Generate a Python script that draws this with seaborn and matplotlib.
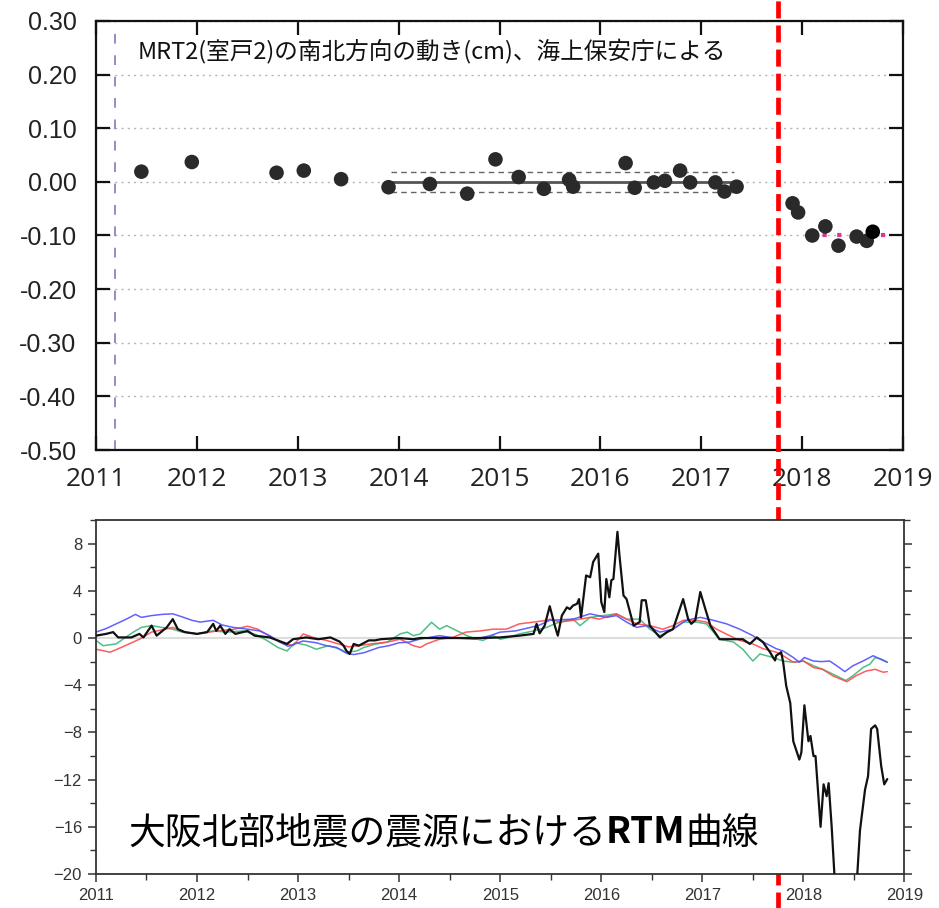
import pandas as pd
import matplotlib
matplotlib.use("Agg")
import matplotlib.pyplot as plt
import seaborn as sns
from matplotlib.ticker import MultipleLocator, FormatStrFormatter

sns.set_theme(style="white")
plt.rcParams["font.family"] = ["Liberation Sans", "DejaVu Sans"]
cjk = ["Noto Sans CJK JP", "DejaVu Sans"]

# --- top panel: MRT2 (Muroto 2) north-south movement, cm
mrt_year = [2011.45, 2011.95, 2012.79, 2013.06, 2013.43, 2013.90, 2014.31, 2014.68,
            2014.96, 2015.19, 2015.44, 2015.69, 2015.73, 2016.25, 2016.34, 2016.53,
            2016.64, 2016.79, 2016.89, 2017.14, 2017.23, 2017.35, 2017.905, 2017.96,
            2018.10, 2018.23, 2018.36, 2018.54, 2018.64, 2018.70]
mrt_ns = [0.019, 0.037, 0.017, 0.021, 0.005, -0.010, -0.004, -0.022,
          0.042, 0.009, -0.013, 0.004, -0.009, 0.035, -0.011, -0.001,
          0.002, 0.021, -0.001, -0.001, -0.018, -0.009, -0.040, -0.057,
          -0.100, -0.083, -0.119, -0.102, -0.110, -0.093]

base_span = [2013.90, 2017.35]
base_mean = 0.0
base_sd = 0.018
after_span = [2018.06, 2018.82]
after_mean = -0.10

tohoku_year = 2011.19
osaka_year = 2017.765

top_title = "MRT2(室戸2)の南北方向の動き(cm)、海上保安庁による"
bottom_title = ["大阪北部地震の震源における", "RTM", "曲線"]

# --- bottom panel: RTM curves
blue_t = [2011.00, 2011.10, 2011.20, 2011.30, 2011.39, 2011.45, 2011.55, 2011.65, 2011.76, 2011.85,
          2011.95, 2012.03, 2012.16, 2012.25, 2012.36, 2012.50, 2012.62, 2012.72, 2012.82, 2012.90,
          2012.97, 2013.05, 2013.18, 2013.28, 2013.38, 2013.48, 2013.55, 2013.65, 2013.80, 2013.90,
          2014.00, 2014.10, 2014.20, 2014.30, 2014.40, 2014.55, 2014.75, 2014.90, 2015.00, 2015.15,
          2015.30, 2015.39, 2015.49, 2015.72, 2015.89, 2016.05, 2016.15, 2016.25, 2016.35, 2016.45,
          2016.58, 2016.71, 2016.84, 2016.98, 2017.11, 2017.24, 2017.37, 2017.50, 2017.57, 2017.64,
          2017.73, 2017.80, 2017.90, 2017.96, 2018.01, 2018.10, 2018.18, 2018.26, 2018.33, 2018.41,
          2018.49, 2018.59, 2018.69, 2018.75, 2018.83]
blue_v = [0.5, 0.8, 1.2, 1.6, 2.0, 1.75, 1.9, 2.0, 2.05, 1.8,
          1.5, 1.35, 1.5, 1.1, 0.9, 0.75, 0.6, 0.2, -0.35, -0.7,
          -0.5, -0.25, -0.4, -0.65, -0.8, -1.3, -1.4, -1.25, -0.8, -0.65,
          -0.4, -0.35, -0.1, 0.05, 0.2, 0.0, -0.1, 0.2, 0.5, 0.6,
          0.9, 1.1, 1.5, 1.6, 2.05, 1.75, 1.9, 1.35, 0.9, 1.05,
          0.5, 0.75, 1.5, 1.75, 1.5, 1.2, 0.75, 0.2, -0.2, -0.5,
          -0.9, -1.1, -1.65, -2.05, -1.65, -1.95, -2.0, -1.95, -2.35, -2.85,
          -2.35, -1.95, -1.5, -1.75, -2.05]

green_t = [2011.00, 2011.07, 2011.20, 2011.30, 2011.37, 2011.45, 2011.55, 2011.65, 2011.76, 2011.85,
           2012.00, 2012.15, 2012.30, 2012.45, 2012.58, 2012.69, 2012.80, 2012.89, 2012.97, 2013.08,
           2013.18, 2013.30, 2013.40, 2013.48, 2013.58, 2013.65, 2013.75, 2013.88, 2014.01, 2014.08,
           2014.14, 2014.21, 2014.32, 2014.40, 2014.47, 2014.60, 2014.67, 2014.77, 2014.83, 2014.93,
           2015.00, 2015.06, 2015.19, 2015.33, 2015.46, 2015.54, 2015.59, 2015.72, 2015.79, 2015.89,
           2016.02, 2016.15, 2016.25, 2016.38, 2016.48, 2016.58, 2016.71, 2016.81, 2016.94, 2017.04,
           2017.17, 2017.31, 2017.40, 2017.50, 2017.57, 2017.70, 2017.80, 2017.90, 2018.00, 2018.10,
           2018.19, 2018.29, 2018.42, 2018.49, 2018.59, 2018.66, 2018.71, 2018.76, 2018.83]
green_v = [-0.2, -0.65, -0.5, 0.1, 0.5, 0.9, 1.05, 0.9, 0.75, 0.5,
           0.35, 0.6, 0.5, 0.6, 0.3, -0.2, -0.8, -1.1, -0.4, -0.6,
           -0.95, -0.65, -0.9, -1.2, -1.1, -0.8, -0.55, -0.35, 0.35, 0.5,
           0.2, 0.35, 1.33, 0.75, 1.05, 0.5, 0.2, -0.1, -0.2, 0.2,
           -0.1, 0.0, 0.35, 0.6, 0.9, 1.2, 1.35, 1.6, 1.05, 1.75,
           1.9, 2.05, 1.6, 1.6, 0.75, 0.2, 0.75, 1.35, 1.35, 1.2,
           -0.1, -0.35, -0.95, -1.95, -1.35, -1.65, -1.95, -2.05, -1.95, -2.35,
           -2.65, -3.05, -3.6, -3.2, -2.5, -2.2, -1.65, -1.75, -2.05]

red_t = [2011.00, 2011.14, 2011.25, 2011.43, 2011.55, 2011.76, 2011.88, 2012.00, 2012.20, 2012.37,
         2012.50, 2012.60, 2012.82, 2012.95, 2013.05, 2013.15, 2013.28, 2013.40, 2013.50, 2013.60,
         2013.72, 2013.88, 2014.01, 2014.14, 2014.21, 2014.27, 2014.40, 2014.53, 2014.66, 2014.80,
         2014.93, 2015.06, 2015.19, 2015.33, 2015.46, 2015.49, 2015.59, 2015.72, 2015.89, 2015.98,
         2016.15, 2016.25, 2016.35, 2016.48, 2016.61, 2016.71, 2016.81, 2016.94, 2017.04, 2017.14,
         2017.27, 2017.37, 2017.50, 2017.60, 2017.73, 2017.80, 2017.90, 2018.00, 2018.10, 2018.19,
         2018.29, 2018.43, 2018.52, 2018.62, 2018.71, 2018.79, 2018.83]
red_v = [-0.95, -1.2, -0.8, -0.1, 0.5, 0.9, 0.5, 0.35, 0.6, 0.75,
         1.0, 0.75, -0.35, -0.65, 0.35, 0.05, -0.2, -0.5, -0.75, -0.65,
         -0.5, -0.35, -0.1, -0.65, -0.8, -0.5, -0.1, 0.05, 0.5, 0.6,
         0.75, 0.75, 1.2, 1.35, 1.5, 1.6, 1.35, 1.5, 1.75, 1.6,
         2.05, 1.6, 1.2, 1.05, 0.75, 1.05, 1.5, 1.5, 1.35, 0.75,
         0.2, -0.2, -0.5, -0.9, -1.2, -1.5, -2.05, -1.95, -2.5, -2.65,
         -3.2, -3.7, -3.2, -2.8, -2.65, -2.9, -2.85]

black_t = [2011.00, 2011.10, 2011.17, 2011.22, 2011.35, 2011.43, 2011.47, 2011.55, 2011.60, 2011.70,
           2011.76, 2011.81, 2011.88, 2012.00, 2012.10, 2012.16, 2012.19, 2012.23, 2012.28, 2012.32,
           2012.38, 2012.50, 2012.57, 2012.72, 2012.89, 2012.95, 2013.08, 2013.20, 2013.32, 2013.41,
           2013.45, 2013.48, 2013.51, 2013.55, 2013.60, 2013.70, 2013.76, 2013.82, 2014.00, 2014.14,
           2014.21, 2014.40, 2014.80, 2015.00, 2015.19, 2015.33, 2015.36, 2015.39, 2015.44, 2015.49,
           2015.54, 2015.57, 2015.61, 2015.66, 2015.69, 2015.72, 2015.76, 2015.78, 2015.80, 2015.85,
           2015.89, 2015.92, 2015.97, 2016.00, 2016.03, 2016.05, 2016.08, 2016.10, 2016.12, 2016.16,
           2016.18, 2016.22, 2016.25, 2016.32, 2016.38, 2016.40, 2016.44, 2016.48, 2016.58, 2016.65,
           2016.71, 2016.81, 2016.86, 2016.89, 2016.93, 2016.98, 2017.03, 2017.08, 2017.17, 2017.31,
           2017.40, 2017.47, 2017.54, 2017.60, 2017.67, 2017.70, 2017.72, 2017.73, 2017.78, 2017.80,
           2017.83, 2017.87, 2017.90, 2017.96, 2017.98, 2018.01, 2018.05, 2018.07, 2018.10, 2018.12,
           2018.17, 2018.20, 2018.23, 2018.25, 2018.28, 2018.31, 2018.42, 2018.53, 2018.56, 2018.61,
           2018.64, 2018.67, 2018.71, 2018.73, 2018.77, 2018.80, 2018.83]
black_v = [0.2, 0.35, 0.5, 0.05, 0.05, 0.35, 0.05, 1.05, 0.2, 0.9,
           1.6, 0.75, 0.5, 0.35, 0.5, 1.2, 0.6, 1.05, 0.35, 0.75,
           0.35, 0.6, 0.2, 0.05, -0.5, -0.1, 0.05, -0.1, 0.05, -0.3,
           -0.65, -1.1, -1.35, -0.5, -0.65, -0.2, -0.2, -0.1, 0.0, -0.1,
           0.0, 0.0, 0.0, 0.05, 0.2, 0.35, 1.2, 0.4, 1.05, 2.7,
           1.05, 0.2, 1.9, 2.6, 2.45, 2.75, 2.9, 3.3, 1.75, 5.3,
           5.15, 6.45, 7.15, 3.05, 2.2, 5.0, 3.45, 4.9, 5.0, 9.0,
           7.0, 3.6, 3.3, 1.05, 1.35, 3.2, 3.2, 1.05, 0.05, 0.5,
           0.75, 3.3, 1.6, 1.2, 1.5, 3.9, 2.45, 1.05, -0.1, -0.1,
           -0.1, -0.5, 0.05, -0.35, -1.2, -1.65, -1.9, -1.5, -1.2, -2.05,
           -4.05, -5.5, -8.75, -10.3, -9.7, -5.7, -8.75, -8.3, -10.0, -10.0,
           -16.0, -12.4, -13.4, -12.3, -16.0, -20.5, -23.0, -20.5, -16.3, -12.85,
           -11.7, -7.7, -7.4, -7.7, -10.85, -12.4, -11.95]

rtm = pd.concat([
    pd.DataFrame({"year": blue_t, "value": blue_v, "curve": "blue"}),
    pd.DataFrame({"year": green_t, "value": green_v, "curve": "green"}),
    pd.DataFrame({"year": red_t, "value": red_v, "curve": "red"}),
    pd.DataFrame({"year": black_t, "value": black_v, "curve": "black"}),
])
curve_colors = {"blue": "#5050ff", "green": "#3cb878", "red": "#ff4a4a", "black": "#111111"}

fig = plt.figure(figsize=(9.39, 9.08), dpi=100)
ax1 = fig.add_axes([0.1022, 0.5044, 0.8595, 0.4725])
ax2 = fig.add_axes([0.1022, 0.0374, 0.8610, 0.3899])

# ------------------------------------
# Top panel
# ------------------------------------
ax1.set_xlim(2011, 2019)
ax1.set_ylim(-0.5, 0.3)
ax1.yaxis.set_major_locator(MultipleLocator(0.1))
ax1.yaxis.set_major_formatter(FormatStrFormatter("%.2f"))
ax1.xaxis.set_major_locator(MultipleLocator(1))
ax1.xaxis.set_major_formatter(FormatStrFormatter("%d"))
ax1.grid(axis="y", linestyle=(0, (1.5, 3)), color="#b5b5b5", linewidth=1)
ax1.grid(axis="x", visible=False)

ax1.axvline(tohoku_year, color="#9b87c9", linewidth=1.4, dashes=(5, 6), zorder=1)
ax1.hlines(base_mean, base_span[0], base_span[1], color="#555555", linewidth=2, zorder=2)
for off in (base_sd, -base_sd):
    ax1.hlines(base_mean + off, base_span[0] + 0.02, base_span[1] - 0.03,
               color="#666666", linewidth=1, linestyles=(0, (4, 3)), zorder=2)
ax1.hlines(after_mean, after_span[0], after_span[1], color="#d23c8f",
           linewidth=3, linestyles=(0, (1, 2.5)), zorder=2)

sns.scatterplot(x=mrt_year[:-1], y=mrt_ns[:-1], ax=ax1, s=110, color="#2a2a2a",
                edgecolor="none", zorder=3)
sns.scatterplot(x=mrt_year[-1:], y=mrt_ns[-1:], ax=ax1, s=110, color="black",
                edgecolor="none", zorder=4)

ax1.text(0.051, 0.93, top_title, transform=ax1.transAxes, ha="left", va="center",
         fontsize=17, family=cjk, color="#111111")

for sp in ax1.spines.values():
    sp.set_color("#111111")
    sp.set_linewidth(1.6)
ax1.tick_params(axis="both", direction="in", length=10, width=1.6, color="#111111",
                top=True, right=True, bottom=True, left=True)
ax1.tick_params(axis="y", labelsize=18, pad=14, labelcolor="#222222")
ax1.tick_params(axis="x", labelsize=19, pad=12, labelcolor="#222222")
for lab in ax1.get_xticklabels():
    lab.set_family(["Open Sans", "DejaVu Sans"])
ax1.set_xlabel("")
ax1.set_ylabel("")

# ------------------------------------
# Bottom panel
# ------------------------------------
ax2.axhline(0, color="#dddddd", linewidth=1.5, zorder=1)
for name in ["green", "red", "blue"]:
    sns.lineplot(data=rtm[rtm["curve"] == name], x="year", y="value", ax=ax2,
                 color=curve_colors[name], linewidth=1.1, alpha=0.9, zorder=2)
sns.lineplot(data=rtm[rtm["curve"] == "black"], x="year", y="value", ax=ax2,
             color=curve_colors["black"], linewidth=1.6, zorder=3)

ax2.set_xlim(2011, 2019)
ax2.set_ylim(-20, 10)
ax2.yaxis.set_major_locator(MultipleLocator(4))
ax2.yaxis.set_minor_locator(MultipleLocator(2))
ax2.xaxis.set_major_locator(MultipleLocator(1))
ax2.xaxis.set_minor_locator(MultipleLocator(0.5))
ax2.xaxis.set_major_formatter(FormatStrFormatter("%d"))
ax2.set_xlabel("")
ax2.set_ylabel("")
for sp in ax2.spines.values():
    sp.set_color("#333333")
    sp.set_linewidth(1.3)
ax2.tick_params(axis="both", which="both", direction="out", color="#333333",
                left=True, right=True, bottom=True, top=False)
ax2.tick_params(axis="both", which="major", length=6, width=1.1, labelsize=12,
                labelcolor="#333333", pad=4)
ax2.tick_params(axis="both", which="minor", length=4, width=1.0)

# caption, with RTM in bold
t1 = ax2.text(0.04, 0.116, bottom_title[0], transform=ax2.transAxes, ha="left",
              va="center", fontsize=26.5, family=cjk, color="black", zorder=5)
t2 = ax2.annotate(bottom_title[1], xy=(1, 0.5), xycoords=t1, ha="left", va="center",
                  fontsize=26.5, family=cjk, fontweight="bold", color="black", zorder=5)
ax2.annotate(bottom_title[2], xy=(1, 0.5), xycoords=t2, ha="left", va="center",
             fontsize=26.5, family=cjk, color="black", zorder=5)

# red dashed line for the northern Osaka earthquake, across the whole figure
ax1.axvline(osaka_year, ymin=-1.07, ymax=1.05, color="#ff0000", linewidth=3.4,
            dashes=(3.6, 1.5), clip_on=False, zorder=6)

fig.savefig("out.png", dpi=100)
